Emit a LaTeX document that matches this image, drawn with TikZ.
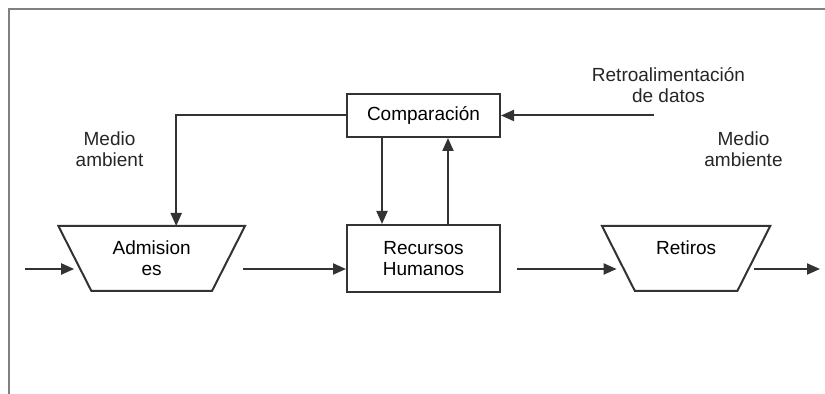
\documentclass[tikz,border=0pt]{standalone}
\usepackage{fontspec}
\setmainfont{Liberation Sans}
\usepackage{tikz}
\usetikzlibrary{arrows.meta,shapes.geometric}

\begin{document}
\begin{tikzpicture}[
  font=\fontsize{9.5}{10.5}\selectfont,
  every matrix/.style={ampersand replacement=\&,column sep=50pt,row sep=43pt},
  block/.style={draw=black!80,line width=1pt,minimum width=76.5pt,inner sep=2pt},
  tray/.style={draw=black!80,line width=1pt,trapezium,shape border rotate=180,
    trapezium stretches=true,minimum height=32.5pt,inner sep=1pt},
  note/.style={align=center,text=black!85},
  to/.style={->,>={Triangle[length=6.5pt,width=5.5pt]},line width=1pt,draw=black!80},
  every node/.style={align=center}]

  \useasboundingbox (0,0) rectangle (412.5pt,-197pt);

  % frame (top and left edges only)
  \draw[gray,line width=1.4pt] (3.8pt,-4.5pt) -- (412.5pt,-4.5pt);
  \draw[gray,line width=1.4pt] (4.5pt,-3.8pt) -- (4.5pt,-197pt);

  % Position the nodes using a matrix layout
  \matrix[matrix anchor=Rec.center] at (211.75pt,-129.25pt) {
    \& \node[block,minimum height=21.5pt] (Comp) {Comparación}; \& \\
    \node[tray,minimum width=93.5pt,trapezium angle=60] (Adm) {Admision\\es};
      \& \node[block,minimum height=33.5pt] (Rec) {Recursos\\Humanos};
      \&[9pt] \node[tray,minimum width=84.5pt,trapezium angle=62] (Ret) {Retiros\\\mbox{}}; \\
  };

  % labels
  \node[note] (envin) at (54.75pt,-74.5pt) {Medio\\ambient};
  \node[note] (envout) at (371.75pt,-74.5pt) {Medio\\ambiente};
  \node[note] (fbtext) at (334.25pt,-42.5pt) {Retroalimentación\\de datos};

  \coordinate (fb) at ([xshift=76.5pt]Comp.east);
  \coordinate (src) at (12.5pt,-134.5pt);
  \coordinate (sink) at (410pt,-134.5pt);

  % Draw the arrows between the nodes
  \draw[to] (fb) -- (Comp.east);
  \draw[to] (Comp.west) -| ([shift={(12.25pt,16.25pt)}]Adm.center);
  \draw[to] ([xshift=-20.75pt]Comp.south) -- ([xshift=-20.75pt]Rec.north);
  \draw[to] ([xshift=12.25pt]Rec.north) -- ([xshift=12.25pt]Comp.south);
  \draw[to] (src) -- ([shift={(-38.75pt,-5.25pt)}]Adm.center);
  \draw[to] ([shift={(45.75pt,-5.25pt)}]Adm.center) -- ([yshift=-5.25pt]Rec.west);
  \draw[to] ([shift={(8pt,-5.25pt)}]Rec.east) -- ([shift={(-34.75pt,-5.25pt)}]Ret.center);
  \draw[to] ([shift={(33.75pt,-5.25pt)}]Ret.center) -- (sink);
\end{tikzpicture}
\end{document}
